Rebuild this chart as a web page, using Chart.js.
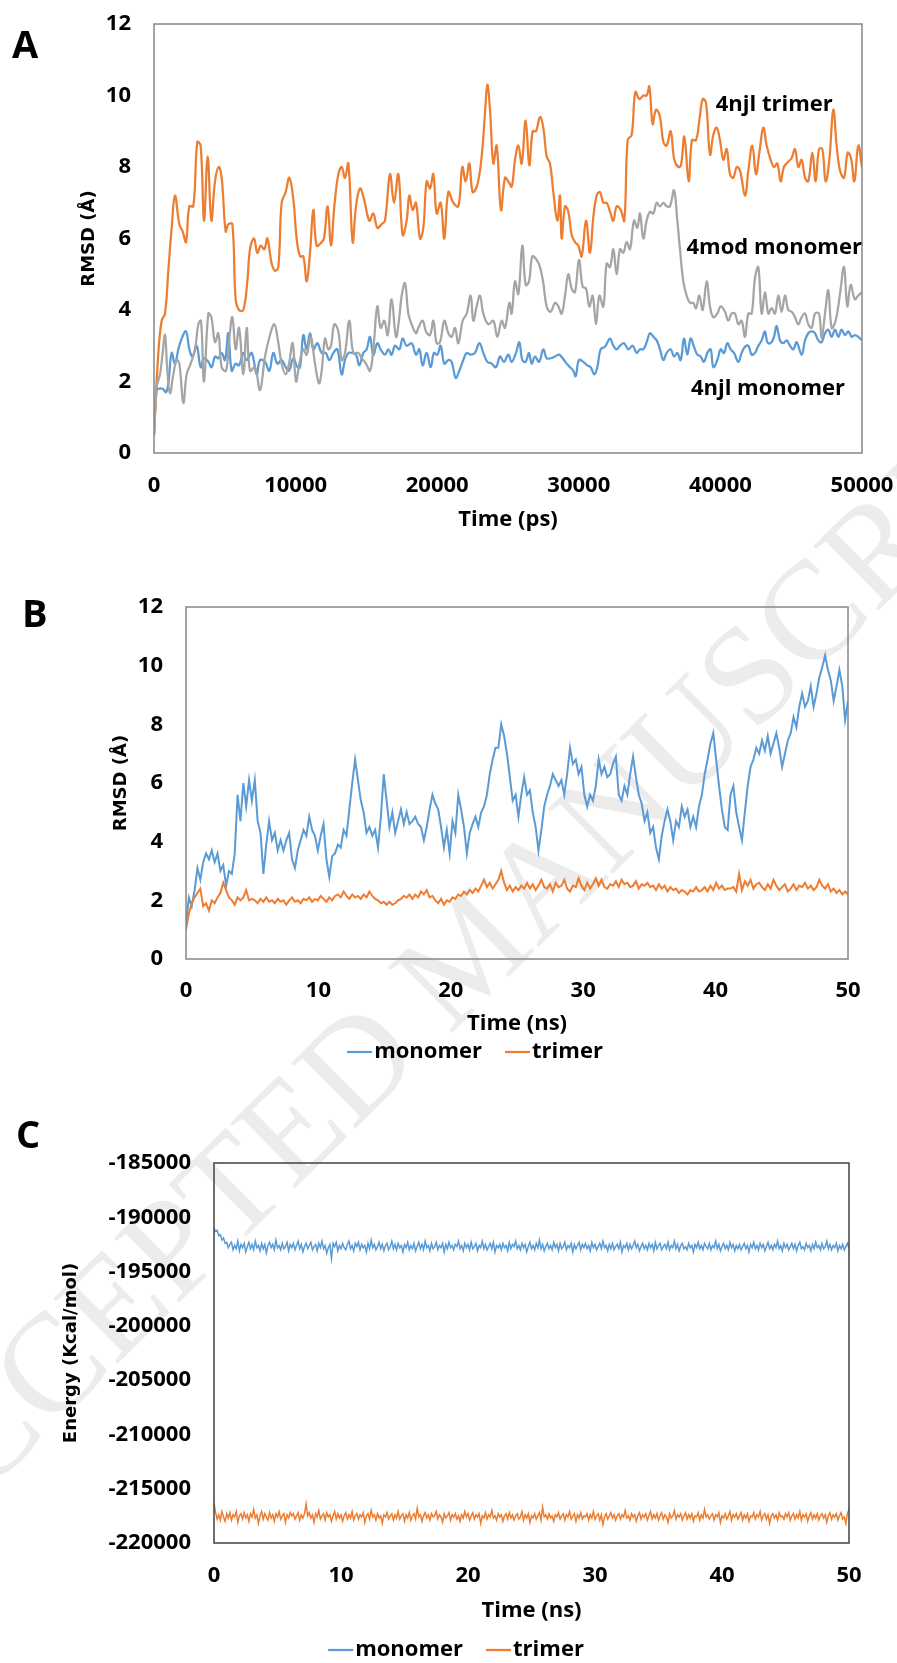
<!DOCTYPE html>
<html>
<head>
<meta charset="utf-8">
<title>RMSD and energy</title>
<script src="https://cdn.jsdelivr.net/npm/chart.js@4.4.1/dist/chart.umd.min.js"></script>
<style>
  html, body { margin: 0; padding: 0; background: #fff; }
  #page { position: relative; width: 897px; height: 1663px; overflow: hidden; background: #fff; }
  #watermark {
    position: absolute; left: 467px; top: 951px;
    font-family: 'Liberation Serif', serif; font-size: 140px; color: #ececec;
    white-space: nowrap; transform: translate(-50%, -50%) rotate(-44.7deg);
  }
  .panel { position: absolute; left: 0; width: 897px; }
</style>
</head>
<body>
<div id="page">
  <div id="watermark">ACCEPTED MANUSCRIPT</div>
  <div class="panel" style="top:0;height:545px"><canvas id="chartA"></canvas></div>
  <div class="panel" style="top:545px;height:520px"><canvas id="chartB"></canvas></div>
  <div class="panel" style="top:1065px;height:598px"><canvas id="chartC"></canvas></div>
</div>
<script>
// ---- Panel A : RMSD (Å) vs time (ps), [time, rmsd] pairs
const aTrimer = [
  [0,0.5],[306,2.8],[541,3.7],[777,3.9],[1012,5.1],[1248,6.3],[1483,7.2],[1789,6.4],[2024,6.2],[2260,5.9],
  [2495,6.9],[2778,6.9],[3060,8.7],[3296,8.6],[3531,6.5],[3790,8.3],[4049,6.5],[4308,7.6],[4567,8.0],[4779,7.7],
  [5061,6.2],[5249,6.4],[5532,6.4],[5767,4.3],[6003,4.0],[6309,4.0],[6591,4.8],[6780,5.7],[7062,6.0],[7297,5.6],
  [7533,5.8],[7792,5.7],[8004,6.0],[8310,5.3],[8545,5.1],[8780,5.2],[9016,7.0],[9298,7.3],[9557,7.7],[9840,7.1],
  [10075,6.0],[10311,5.5],[10546,5.5],[10781,4.8],[11017,5.6],[11252,6.8],[11488,5.8],[11841,5.9],[12005,6.0],[12264,6.9],
  [12500,5.8],[12735,6.9],[13018,7.8],[13253,8.0],[13488,7.7],[13724,8.1],[14030,5.9],[14265,6.9],[14548,7.4],[14830,7.1],
  [15207,6.5],[15489,6.7],[15772,6.3],[16078,6.4],[16313,6.5],[16666,7.8],[16949,7.0],[17255,7.8],[17561,6.1],[17843,6.5],
  [18032,7.2],[18267,6.8],[18503,7.0],[18785,6.0],[19020,6.3],[19256,7.6],[19491,7.4],[19727,7.8],[19962,6.7],[20244,7.0],
  [20504,6.0],[20786,7.3],[21139,7.0],[21492,6.9],[21775,8.0],[22010,7.6],[22269,8.1],[22504,7.3],[22834,7.5],[23140,8.3],
  [23375,9.5],[23540,10.3],[23728,9.6],[23964,8.1],[24199,8.6],[24505,6.8],[24788,7.7],[25023,7.6],[25259,7.45],[25494,8.2],
  [25730,8.6],[25965,8.1],[26247,9.3],[26506,8.05],[26741,9.0],[26977,9.0],[27259,9.4],[27495,9.1],[27730,8.3],[27965,8.1],
  [28201,7.3],[28483,6.5],[28672,7.2],[28789,6.0],[29025,6.9],[29260,6.75],[29496,6.1],[29731,5.9],[29966,5.8],[30202,5.5],
  [30508,6.5],[30790,5.6],[31026,6.6],[31261,7.2],[31496,7.3],[31732,7.0],[31967,7.0],[32203,6.75],[32438,6.5],[32673,6.9],
  [32956,6.8],[33215,6.5],[33450,8.75],[33733,8.9],[33992,10.1],[34274,9.9],[34557,10.0],[34792,10.0],[34980,10.25],[35216,9.2],
  [35451,9.6],[35734,9.4],[35969,8.7],[36204,8.6],[36487,9.0],[36746,8.2],[37028,8.0],[37217,8.05],[37452,8.85],[37758,7.6],
  [37993,8.75],[38276,8.75],[38511,9.3],[38747,9.9],[38982,9.8],[39265,8.35],[39500,8.9],[39735,9.1],[39971,8.75],[40206,8.2],
  [40442,8.5],[40677,7.8],[40912,7.7],[41148,8.0],[41383,7.9],[41736,7.2],[41972,7.9],[42254,8.6],[42513,7.8],[42749,8.4],
  [43031,9.1],[43266,8.6],[43549,8.2],[43784,8.0],[44020,8.1],[44255,7.6],[44490,8.0],[44796,8.15],[45032,8.25],[45267,8.5],
  [45503,8.0],[45738,8.2],[45974,7.7],[46209,7.6],[46491,8.4],[46727,7.6],[46962,8.5],[47198,8.5],[47433,7.6],[47692,8.2],
  [47974,9.6],[48210,8.6],[48445,7.9],[48728,7.7],[48987,8.4],[49222,8.25],[49457,7.6],[49740,8.6],[50000,8.0]
];
const aModMonomer = [
  [0,0.5],[188,1.85],[424,2.2],[612,2.8],[777,3.3],[942,2.3],[1130,1.67],[1365,2.2],[1601,2.6],[1789,2.5],
  [2072,1.4],[2307,2.2],[2589,2.5],[2895,2.9],[3131,3.6],[3319,3.7],[3531,2.0],[3837,3.9],[4049,3.8],[4308,3.1],
  [4543,3.35],[4779,2.4],[5085,2.3],[5320,3.2],[5532,3.8],[5767,2.9],[6003,3.5],[6309,2.2],[6544,3.5],[6780,2.3],
  [7133,2.4],[7486,1.76],[7839,2.7],[8192,3.3],[8498,3.6],[8733,3.2],[9016,2.5],[9298,2.2],[9534,2.5],[9793,3.07],
  [10028,2.0],[10263,2.5],[10546,2.9],[10781,2.75],[11064,3.25],[11370,2.5],[11652,1.95],[11841,2.3],[12076,3.2],[12311,2.9],
  [12500,3.0],[12735,3.6],[13018,3.4],[13253,2.6],[13488,2.8],[13794,3.7],[14077,2.8],[14430,2.8],[14665,2.65],[14971,2.5],
  [15254,2.3],[15489,2.9],[15772,4.1],[16007,3.5],[16266,3.7],[16502,3.3],[16784,4.3],[17090,3.25],[17325,3.8],[17490,4.4],
  [17726,4.75],[17961,3.9],[18197,3.6],[18503,3.35],[18667,3.5],[18973,3.7],[19209,3.4],[19491,3.3],[19727,3.7],[19962,3.07],
  [20197,3.1],[20503,3.7],[20786,3.35],[21021,3.25],[21257,3.5],[21492,3.07],[21798,3.7],[22081,3.9],[22363,4.4],[22551,3.7],
  [22787,4.1],[23022,4.4],[23258,3.9],[23611,3.6],[23964,3.7],[24246,3.25],[24552,3.7],[24788,3.5],[25094,4.2],[25259,3.9],
  [25494,4.8],[25730,4.45],[26012,5.8],[26247,4.7],[26482,4.8],[26718,5.5],[27024,5.4],[27259,5.2],[27495,4.75],[27730,4.1],
  [28012,3.95],[28319,4.2],[28554,4.1],[28789,3.9],[29025,4.4],[29260,5.0],[29496,4.6],[29731,4.5],[30013,5.4],[30272,4.65],
  [30508,4.6],[30743,4.1],[30979,4.4],[31214,3.6],[31449,4.4],[31732,4.1],[31967,5.3],[32203,5.2],[32438,5.7],[32673,5.0],
  [32909,5.7],[33144,5.6],[33380,5.9],[33615,5.7],[33898,6.5],[34133,6.3],[34321,6.7],[34557,6.0],[34792,6.5],[35027,6.75],
  [35263,6.7],[35498,7.0],[35734,6.9],[35969,7.0],[36204,6.9],[36440,6.9],[36722,7.35],[36958,6.5],[37146,5.7],[37381,4.8],
  [37617,4.4],[37852,4.2],[38088,4.2],[38276,4.05],[38511,4.4],[38747,4.0],[39029,4.8],[39265,4.1],[39500,3.8],[39782,3.9],
  [40018,4.1],[40324,3.95],[40559,3.7],[40795,3.9],[41030,3.9],[41266,3.6],[41501,3.7],[41736,3.25],[41972,3.9],[42207,3.9],
  [42443,4.9],[42678,5.2],[42913,3.9],[43149,4.5],[43384,3.9],[43620,4.05],[43855,3.9],[44091,4.4],[44326,3.95],[44561,4.4],
  [44797,4.0],[45032,3.95],[45267,3.8],[45503,3.6],[45738,3.8],[45974,3.9],[46209,3.6],[46444,3.5],[46680,3.9],[46962,3.9],
  [47150,3.2],[47386,3.9],[47621,4.55],[47857,3.5],[48139,3.7],[48445,4.45],[48728,5.2],[48963,4.1],[49198,4.7],[49494,4.3],
  [49730,4.4],[50000,4.5]
];
const aNjlMonomer = [
  [0,0.5],[188,1.76],[377,1.8],[612,1.8],[847,1.7],[1012,1.95],[1248,2.8],[1483,2.5],[1718,2.9],[1954,3.2],
  [2260,3.4],[2495,2.9],[2731,2.7],[3013,3.0],[3296,2.4],[3531,2.65],[3837,2.55],[4072,2.4],[4308,2.7],[4543,2.65],
  [4779,2.8],[5014,2.6],[5249,3.35],[5485,2.3],[5767,2.5],[6003,2.45],[6309,2.8],[6544,2.6],[6897,2.8],[7250,2.2],
  [7486,2.6],[7839,2.55],[8145,2.3],[8427,2.8],[8710,2.5],[9016,2.6],[9298,2.4],[9534,2.3],[9840,2.65],[10122,2.4],
  [10311,2.4],[10546,3.3],[10781,2.9],[11017,3.35],[11252,2.9],[11535,3.07],[11841,2.8],[12123,2.8],[12382,2.6],[12665,2.8],
  [12947,2.9],[13253,2.2],[13488,2.6],[13724,2.8],[13959,2.8],[14265,2.75],[14501,2.45],[14783,2.8],[15019,2.9],[15254,3.25],
  [15489,2.75],[15772,3.07],[16007,2.9],[16313,2.75],[16549,2.9],[16784,2.75],[17019,3.0],[17325,2.9],[17561,3.2],[17843,3.0],
  [18197,3.07],[18503,2.75],[18738,2.9],[18973,2.45],[19256,2.8],[19538,2.4],[19774,2.8],[20009,2.75],[20244,3.0],[20504,2.5],
  [20786,2.6],[21021,2.55],[21304,2.1],[21563,2.3],[21845,2.6],[22081,2.8],[22363,2.75],[22669,2.8],[22975,3.07],[23258,2.8],
  [23540,2.55],[23846,2.5],[24152,2.4],[24434,2.7],[24717,2.55],[25023,2.75],[25259,2.55],[25565,2.8],[25800,3.1],[26012,2.6],
  [26247,2.55],[26482,2.8],[26671,2.5],[26906,2.7],[27189,2.55],[27495,2.9],[27730,2.65],[28012,2.65],[28319,2.7],[28601,2.75],
  [28860,2.65],[29142,2.5],[29378,2.4],[29613,2.3],[29778,2.15],[30013,2.6],[30319,2.55],[30602,2.45],[30837,2.4],[31096,2.2],
  [31308,2.4],[31543,2.9],[31850,2.97],[32203,3.2],[32438,3.0],[32673,2.9],[32909,3.0],[33191,3.07],[33497,2.9],[33803,3.0],
  [34086,2.8],[34321,2.9],[34557,2.9],[34792,3.1],[35027,3.35],[35263,3.25],[35498,3.15],[35734,2.9],[35969,2.6],[36204,2.8],
  [36487,2.9],[36722,2.7],[36958,2.8],[37193,2.6],[37428,3.2],[37664,2.75],[37899,3.2],[38135,2.97],[38370,2.75],[38605,2.7],
  [38841,2.55],[39076,2.8],[39312,2.9],[39500,2.4],[39782,2.6],[40018,2.9],[40253,2.8],[40489,3.07],[40724,2.9],[40959,2.8],
  [41266,2.55],[41501,2.8],[41736,2.97],[41972,3.0],[42207,2.75],[42443,2.8],[42678,3.0],[42913,3.15],[43149,3.4],[43314,3.1],
  [43549,3.07],[43784,3.25],[43973,3.55],[44208,3.15],[44443,3.07],[44679,3.15],[44914,3.0],[45150,2.9],[45385,3.1],[45738,2.75],
  [45974,3.15],[46209,3.35],[46444,3.4],[46680,3.35],[46915,3.15],[47150,3.1],[47386,3.35],[47621,3.45],[47857,3.25],[48092,3.45],
  [48328,3.25],[48563,3.45],[48798,3.3],[49034,3.4],[49269,3.25],[49504,3.3],[49740,3.25],[50000,3.15]
];
const aNotes = [
  { text: '4njl trimer', x: 43800, y: 9.73 },
  { text: '4mod monomer', x: 43800, y: 5.73 },
  { text: '4njl monomer', x: 43360, y: 1.79 }
];
const aXTicks = [0, 10000, 20000, 30000, 40000, 50000];
const aYTicks = [0, 2, 4, 6, 8, 10, 12];

// ---- Panel B : RMSD (Å) vs time (ns), one reading every 50/231 ns
const bStep = 50 / 231;
const bMonomer = [
  1.2, 2.1, 1.8, 2.35, 3.1, 2.7, 3.3, 3.6, 3.4, 3.7,
  3.3, 3.6, 3.0, 3.2, 2.5, 3.0, 2.9, 3.6, 5.6, 4.7,
  6.0, 5.2, 6.1, 5.4, 6.1, 4.7, 4.3, 2.9, 3.9, 4.7,
  4.05, 4.3, 3.7, 4.05, 3.7, 4.05, 4.3, 3.4, 3.1, 3.7,
  4.05, 4.4, 4.2, 4.85, 4.4, 4.2, 3.7, 4.2, 4.6, 3.4,
  2.8, 3.5, 3.6, 3.9, 3.8, 4.4, 4.2, 5.1, 6.0, 6.8,
  6.1, 5.4, 5.0, 4.3, 4.5, 4.2, 4.4, 3.8, 4.85, 6.3,
  5.4, 4.5, 5.0, 4.3, 4.7, 5.1, 4.6, 5.0, 4.6, 4.7,
  4.85, 4.6, 4.5, 4.05, 4.5, 5.1, 5.6, 5.3, 5.1, 4.5,
  3.8, 4.4, 3.6, 4.7, 4.3, 5.6, 5.1, 4.5, 3.6, 4.3,
  4.6, 4.85, 4.5, 5.0, 5.2, 5.6, 6.3, 6.8, 7.2, 7.2,
  8.0, 7.6, 7.0, 6.2, 5.4, 5.6, 4.85, 5.6, 6.2, 5.6,
  5.75, 5.0, 4.5, 3.7, 4.4, 5.2, 5.6, 5.9, 6.3, 6.1,
  5.9, 6.1, 5.6, 6.3, 7.2, 6.65, 6.8, 6.3, 6.55, 5.6,
  5.2, 5.6, 5.4, 5.9, 6.8, 6.3, 6.55, 6.2, 6.3, 6.65,
  6.9, 5.6, 5.4, 5.9, 5.6, 6.3, 6.9, 6.2, 5.6, 5.3,
  4.7, 5.0, 4.3, 4.5, 3.8, 3.4, 4.2, 4.7, 5.1, 4.7,
  4.05, 4.7, 4.5, 5.2, 4.85, 5.1, 4.5, 4.85, 4.5, 5.2,
  5.6, 6.3, 6.8, 7.35, 7.7, 6.8, 5.9, 5.1, 4.5, 4.4,
  5.6, 5.9, 5.0, 4.5, 4.05, 5.0, 5.9, 6.55, 6.8, 7.2,
  7.0, 7.45, 7.1, 7.6, 7.0, 7.35, 7.7, 7.2, 6.55, 7.0,
  7.45, 7.7, 8.25, 7.9, 8.6, 9.05, 8.6, 8.8, 9.3, 8.6,
  9.05, 9.6, 9.95, 10.35, 9.85, 9.5, 8.8, 9.3, 9.85, 9.3,
  8.15, 8.8
];
const bTrimer = [
  1.0, 1.55, 1.9, 2.1, 2.25, 2.4, 1.8, 1.9, 1.65, 2.0,
  1.9, 2.1, 2.25, 2.6, 2.35, 2.1, 2.0, 1.85, 2.1, 2.0,
  2.1, 2.35, 2.0, 2.05, 2.0, 1.9, 2.05, 1.95, 2.1, 1.95,
  2.0, 1.9, 2.05, 1.95, 2.0, 1.85, 2.0, 2.1, 1.95, 2.0,
  1.9, 2.05, 2.0, 2.1, 1.95, 2.05, 2.0, 2.15, 2.05, 1.95,
  2.1, 2.0, 2.15, 2.2, 2.1, 2.3, 2.15, 2.05, 2.2, 2.1,
  2.15, 2.05, 2.2, 2.1, 2.3, 2.15, 2.05, 2.0, 1.9, 1.95,
  1.85, 1.95, 1.85, 1.9, 2.0, 2.05, 2.15, 2.1, 2.2, 2.05,
  2.2, 2.1, 2.3, 2.2, 2.35, 2.1, 2.15, 2.0, 1.9, 2.05,
  1.85, 2.0, 1.95, 2.1, 2.05, 2.2, 2.15, 2.3, 2.2, 2.35,
  2.25, 2.4, 2.3, 2.5, 2.7, 2.45, 2.6, 2.4, 2.55, 2.7,
  3.0, 2.6, 2.35, 2.5, 2.3, 2.45, 2.35, 2.5, 2.4, 2.6,
  2.4, 2.55, 2.35, 2.5, 2.7, 2.45, 2.4, 2.55, 2.3, 2.6,
  2.45, 2.5, 2.7, 2.4, 2.3, 2.5, 2.45, 2.75, 2.5, 2.35,
  2.6, 2.4, 2.55, 2.75, 2.5, 2.7, 2.45, 2.4, 2.55, 2.5,
  2.65, 2.45, 2.7, 2.55, 2.6, 2.45, 2.5, 2.65, 2.4, 2.55,
  2.5, 2.6, 2.45, 2.5, 2.35, 2.55, 2.4, 2.5, 2.3, 2.45,
  2.35, 2.4, 2.25, 2.35, 2.3, 2.2, 2.35, 2.3, 2.45, 2.3,
  2.35, 2.45, 2.3, 2.5, 2.35, 2.6, 2.4, 2.5, 2.35, 2.4,
  2.4, 2.45, 2.3, 2.9, 2.35, 2.65, 2.5, 2.7, 2.4, 2.55,
  2.6, 2.45, 2.35, 2.55, 2.4, 2.7, 2.5, 2.35, 2.45, 2.55,
  2.3, 2.4, 2.55, 2.35, 2.5, 2.45, 2.6, 2.4, 2.5, 2.35,
  2.45, 2.7, 2.5, 2.4, 2.55, 2.3, 2.4, 2.25, 2.35, 2.2,
  2.3, 2.2
];
const bXTicks = [0, 10, 20, 30, 40, 50];
const bYTicks = [0, 2, 4, 6, 8, 10, 12];

// ---- Panel C : energy (Kcal/mol) vs time (ns), one reading every 0.125 ns
const cStep = 0.125;
const cMonomer = [
  -191000, -191300, -191200, -191700, -191600, -192100, -191900, -192400, -192300, -192800, -192500,
  -192300, -193000, -192600, -192900, -192200, -193100, -192500, -192800, -192400, -193200,
  -192700, -192300, -192900, -192500, -193000, -192200, -192800, -192600, -193100, -192400,
  -192900, -192500, -193300, -192600, -192300, -192800, -192500, -193000, -192100, -192800,
  -192600, -193000, -192400, -192900, -192700, -192300, -193100, -192500, -192800, -192400,
  -193000, -192600, -192200, -192900, -192500, -193200, -192700, -192400, -192900, -192600,
  -192300, -193000, -192700, -192500, -193100, -192400, -192800, -192200, -192900, -192600,
  -193300, -192800, -192500, -193800, -192400, -192700, -192300, -193100, -192600, -192900,
  -192400, -192800, -193000, -192500, -192200, -192900, -192600, -193100, -192400, -192700,
  -192300, -193000, -192500, -192800, -192600, -193200, -192400, -192900, -192100, -192800,
  -192500, -193000, -192700, -192300, -192900, -192500, -193100, -192600, -192400, -193000,
  -192700, -192200, -192900, -192500, -193000, -192400, -192800, -192600, -193200, -192500,
  -192800, -192300, -193000, -192600, -192900, -192400, -193100, -192700, -192300, -192900,
  -192500, -193000, -192200, -192800, -192600, -193100, -192400, -192900, -192700, -192300,
  -193000, -192600, -192800, -192400, -193200, -192500, -192900, -192300, -192800, -192600,
  -193000, -192500, -192700, -192200, -192900, -192600, -193100, -192400, -192800, -192500,
  -193000, -192300, -192900, -192700, -192400, -193100, -192600, -192800, -192200, -192900,
  -192500, -193000, -192700, -192400, -192900, -192300, -193200, -192600, -192800, -192500,
  -193000, -192400, -192800, -192600, -193100, -192300, -192900, -192500, -192700, -192200,
  -192900, -192600, -193000, -192400, -192800, -192500, -193200, -192700, -192300, -192900,
  -192600, -193000, -192400, -192800, -192100, -192900, -192500, -193100, -192700, -192400,
  -192900, -192600, -193000, -192300, -192800, -192500, -193100, -192400, -192900, -192700,
  -192300, -193000, -192600, -192800, -192400, -193200, -192500, -192900, -192600, -192300,
  -193000, -192500, -192800, -192400, -192900, -192600, -193100, -192300, -192800, -192500,
  -193000, -192700, -192400, -192900, -192200, -192800, -192600, -193100, -192500, -192900,
  -192400, -193000, -192700, -192500, -192900, -192300, -193200, -192600, -192800, -192400,
  -193000, -192500, -192900, -192600, -192200, -192800, -192500, -193100, -192700, -192400,
  -192900, -192600, -193000, -192400, -192800, -192500, -193100, -192300, -192900, -192600,
  -192400, -193000, -192700, -192500, -192900, -192300, -193000, -192600, -192800, -192200,
  -192900, -192500, -193100, -192600, -192400, -192900, -192700, -193000, -192400, -192800,
  -192600, -193200, -192500, -192800, -192300, -192900, -192600, -193000, -192400, -192700,
  -192900, -192400, -193000, -192600, -192800, -192200, -192900, -192500, -193100, -192700,
  -192400, -192900, -192600, -193000, -192300, -192800, -192500, -193100, -192600, -192900,
  -192500, -193000, -192700, -192400, -192900, -192600, -193200, -192500, -192800, -192300,
  -192900, -192600, -193000, -192400, -192800, -192500, -193100, -192700, -192300, -192900,
  -192600, -193000, -192500, -192800, -192200, -192900, -192600, -193100, -192400, -192800,
  -192500, -193000, -192700, -192400, -192900, -192500, -193100, -192600, -192300, -192900,
  -192700, -193000, -192400, -192800, -192600, -193100, -192500, -192900, -192300, -192800,
  -192600, -193000, -192400, -192900, -192700, -192200, -192900, -192500, -193000, -192600,
  -192800, -192400, -193100, -192600, -192900, -192500, -193000, -192700, -192400, -192900
];
const cTrimer = [
  -216300,
  -217200, -217800, -217400, -217900, -217100, -217600, -218000, -217300, -217700, -217200,
  -217900, -217400, -217600, -217100, -218100, -217500, -217300, -217800, -217200, -217700,
  -217400, -218000, -217300, -217600, -216900, -217700, -217400, -218200, -217500, -217100,
  -217800, -217300, -217600, -217900, -217200, -217700, -217400, -218000, -217300, -217600,
  -217100, -217800, -217500, -217300, -218100, -217400, -217700, -217200, -217500, -217300,
  -217800, -217500, -217200, -217900, -217400, -217700, -217300, -216400, -217500, -217200,
  -217700, -217400, -218100, -217300, -217600, -217000, -217800, -217500, -217300, -217900,
  -217200, -217600, -217400, -218000, -217500, -217100, -217800, -217300, -217700, -217400,
  -218000, -217500, -217200, -217800, -217400, -217700, -217100, -217900, -217500, -217300,
  -217800, -217400, -217600, -217200, -218100, -217500, -217300, -217800, -217000, -217600,
  -217400, -217900, -217300, -217700, -217500, -218200, -217400, -217600, -217200, -217800,
  -217500, -217300, -217900, -217400, -217700, -217100, -217800, -217500, -217300, -218000,
  -217400, -217700, -217200, -217900, -217500, -217300, -217800, -216800, -217600, -217400,
  -218000, -217500, -217200, -217700, -217400, -217900, -217300, -217600, -217500, -217100,
  -217800, -217400, -217600, -218100, -217300, -217700, -217500, -217200, -217900, -217400,
  -217600, -217300, -217800, -217500, -218000, -217400, -217700, -217100, -217600, -217300,
  -217900, -217500, -217200, -217800, -217400, -217600, -217300, -218200, -217500, -217700,
  -217200, -217800, -217400, -217600, -217000, -217700, -217500, -217900, -217300, -217600,
  -217400, -218000, -217500, -217300, -217800, -217200, -217700, -217400, -217900, -217500,
  -217300, -217800, -217600, -217100, -217900, -217400, -217700, -217300, -218100, -217500,
  -217700, -217300, -217800, -217500, -217200, -217900, -216700, -217600, -217400, -217800,
  -217300, -217700, -217500, -218000, -217400, -217600, -217200, -217800, -217500, -217300,
  -217900, -217400, -217600, -217100, -217800, -217500, -217300, -218000, -217400, -217700,
  -217200, -217800, -217500, -217600, -217300, -217900, -217400, -217700, -217100, -217800,
  -217500, -217300, -217900, -217400, -218300, -217600, -217300, -217800, -217500, -217200,
  -217700, -217400, -217900, -217500, -217300, -217800, -217400, -217600, -217000, -217700,
  -217500, -217900, -217300, -217600, -217400, -218000, -217500, -217200, -217800, -217400,
  -217600, -217300, -217900, -217500, -217100, -217800, -217400, -217700, -217300, -217900,
  -217500, -217200, -217800, -217400, -217600, -218100, -217300, -217700, -217500, -217000,
  -217800, -217400, -217600, -217300, -217900, -217500, -217200, -217800, -217400, -217700,
  -217300, -218000, -217500, -217600, -217200, -217900, -217400, -217700, -216900, -217600,
  -217400, -217800, -217500, -217300, -217900, -217400, -217600, -217200, -218100, -217500,
  -217700, -217300, -217800, -217500, -217100, -217900, -217400, -217600, -217300, -217800,
  -217500, -217200, -217900, -217400, -217700, -217300, -218000, -217500, -217600, -217200,
  -217800, -217400, -217600, -217100, -217900, -217500, -217300, -217800, -217400, -218200,
  -217500, -217300, -217700, -217400, -217900, -217200, -217600, -217500, -217800, -217300,
  -217600, -217200, -217900, -217500, -217300, -217800, -217400, -217700, -217100, -217900,
  -217400, -217600, -217300, -218000, -217500, -217200, -217800, -217400, -217700, -217300,
  -217900, -217500, -217300, -217700, -217400, -218100, -217500, -217200, -217800, -217400,
  -217600, -217300, -217900, -217500, -217200, -217800, -217600, -218200, -217300, -216900
];
const cXTicks = [0, 10, 20, 30, 40, 50];
const cYTicks = [-220000, -215000, -210000, -205000, -200000, -195000, -190000, -185000];

const blue = '#5B9BD5';
const orange = '#ED7D31';
const grey = '#A5A5A5';

const tickFont = { family: "'Open Sans', sans-serif", size: 22, weight: 'bold' };
const yTitleFont = { family: "'DejaVu Sans', sans-serif", size: 18, weight: 'bold' };

function pairs(list) {
  return list.map(p => ({ x: p[0], y: p[1] }));
}
function stepped(list, step) {
  return list.map((v, i) => ({ x: i * step, y: v }));
}

// frame, panel letter, text notes and the small line legend
function decor(o) {
  return {
    id: 'decor',
    afterDraw(chart) {
      const { ctx, chartArea: a, scales } = chart;
      ctx.save();
      ctx.strokeStyle = o.frame;
      ctx.lineWidth = 1.5;
      ctx.strokeRect(a.left, a.top, a.right - a.left, a.bottom - a.top);

      ctx.fillStyle = '#000';
      ctx.textAlign = 'left';
      ctx.textBaseline = 'alphabetic';
      ctx.font = "bold 38px 'Open Sans', sans-serif";
      ctx.fillText(o.letter, o.letterX, o.letterY);

      ctx.font = "bold 22px 'Open Sans', sans-serif";
      ctx.textBaseline = 'middle';
      ctx.textAlign = 'center';
      (o.notes || []).forEach(n => {
        ctx.fillText(n.text, scales.x.getPixelForValue(n.x), scales.y.getPixelForValue(n.y));
      });

      if (o.legend) {
        const sets = chart.data.datasets;
        const line = 25, gap = 2, space = 23;
        const widths = sets.map(d => line + gap + ctx.measureText(d.label).width);
        const total = widths.reduce((s, w) => s + w, 0) + space * (sets.length - 1);
        let x = o.legend.x - total / 2;
        ctx.textAlign = 'left';
        sets.forEach((d, i) => {
          ctx.strokeStyle = d.borderColor;
          ctx.lineWidth = 2.25;
          ctx.beginPath();
          ctx.moveTo(x, o.legend.y);
          ctx.lineTo(x + line, o.legend.y);
          ctx.stroke();
          ctx.fillText(d.label, x + line + gap, o.legend.y);
          x += widths[i] + space;
        });
      }
      ctx.restore();
    }
  };
}

function makeChart(id, o) {
  return new Chart(document.getElementById(id), {
    type: 'line',
    data: { datasets: o.datasets },
    options: {
      responsive: true,
      maintainAspectRatio: false,
      animation: false,
      events: [],
      layout: { padding: o.padding },
      elements: { point: { radius: 0 } },
      plugins: { legend: { display: false }, tooltip: { enabled: false } },
      scales: {
        x: {
          type: 'linear',
          min: o.xTicks[0],
          max: o.xTicks[o.xTicks.length - 1],
          afterBuildTicks: s => { s.ticks = o.xTicks.map(v => ({ value: v })); },
          // fixed axis box so the plot area lands where the figure has it
          afterFit: s => { s.height = o.xHeight; s.paddingLeft = 0; s.paddingRight = 0; },
          grid: { display: false, drawTicks: false },
          border: { display: false },
          ticks: { font: tickFont, color: '#000', padding: o.xTickPad, maxRotation: 0, autoSkip: false, callback: v => String(v) },
          title: { display: true, text: o.xTitle, font: tickFont, color: '#000', padding: { top: 0, bottom: o.xTitlePad } }
        },
        y: {
          type: 'linear',
          min: o.yTicks[0],
          max: o.yTicks[o.yTicks.length - 1],
          afterBuildTicks: s => { s.ticks = o.yTicks.map(v => ({ value: v })); },
          afterFit: s => { s.width = o.yWidth; s.paddingTop = 0; s.paddingBottom = 0; },
          grid: { display: false, drawTicks: false },
          border: { display: false },
          ticks: { font: tickFont, color: '#000', padding: 23, autoSkip: false, callback: v => String(v) },
          title: { display: true, text: o.yTitle, font: yTitleFont, color: '#000', padding: { top: o.yTitlePad, bottom: 0 } }
        }
      }
    },
    plugins: [decor(o.decor)]
  });
}

makeChart('chartA', {
  datasets: [
    { label: '4njl monomer', data: pairs(aNjlMonomer), borderColor: blue, borderWidth: 2.25, tension: 0.4, order: 2 },
    { label: '4njl trimer', data: pairs(aTrimer), borderColor: orange, borderWidth: 2.25, tension: 0.4, order: 1 },
    { label: '4mod monomer', data: pairs(aModMonomer), borderColor: grey, borderWidth: 2.25, tension: 0.4, order: 0 }
  ],
  padding: { left: 70, right: 35, top: 24, bottom: 0 },
  xTicks: aXTicks, yTicks: aYTicks,
  xHeight: 92, yWidth: 84,
  xTickPad: 20, xTitlePad: 11.8, yTitlePad: 8.2,
  xTitle: 'Time (ps)', yTitle: 'RMSD (Å)',
  decor: { frame: '#868686', letter: 'A', letterX: 12, letterY: 58, notes: aNotes }
});

makeChart('chartB', {
  datasets: [
    { label: 'monomer', data: stepped(bMonomer, bStep), borderColor: blue, borderWidth: 2, tension: 0, order: 1 },
    { label: 'trimer', data: stepped(bTrimer, bStep), borderColor: orange, borderWidth: 2, tension: 0, order: 0 }
  ],
  padding: { left: 100, right: 49, top: 62, bottom: 0 },
  xTicks: bXTicks, yTicks: bYTicks,
  xHeight: 106, yWidth: 86,
  xTickPad: 18.8, xTitlePad: 27.8, yTitlePad: 10.2,
  xTitle: 'Time (ns)', yTitle: 'RMSD (Å)',
  decor: { frame: '#868686', letter: 'B', letterX: 22, letterY: 82, legend: { x: 475, y: 507 } }
});

makeChart('chartC', {
  datasets: [
    { label: 'monomer', data: stepped(cMonomer, cStep), borderColor: blue, borderWidth: 1.5, tension: 0, order: 1 },
    { label: 'trimer', data: stepped(cTrimer, cStep), borderColor: orange, borderWidth: 1.5, tension: 0, order: 0 }
  ],
  padding: { left: 50, right: 48, top: 98, bottom: 0 },
  xTicks: cXTicks, yTicks: cYTicks,
  xHeight: 120, yWidth: 164,
  xTickPad: 19.8, xTitlePad: 38.8, yTitlePad: 10.7,
  xTitle: 'Time (ns)', yTitle: 'Energy (Kcal/mol)',
  decor: { frame: '#404040', letter: 'C', letterX: 16, letterY: 83, legend: { x: 456, y: 585 } }
});
</script>
</body>
</html>
